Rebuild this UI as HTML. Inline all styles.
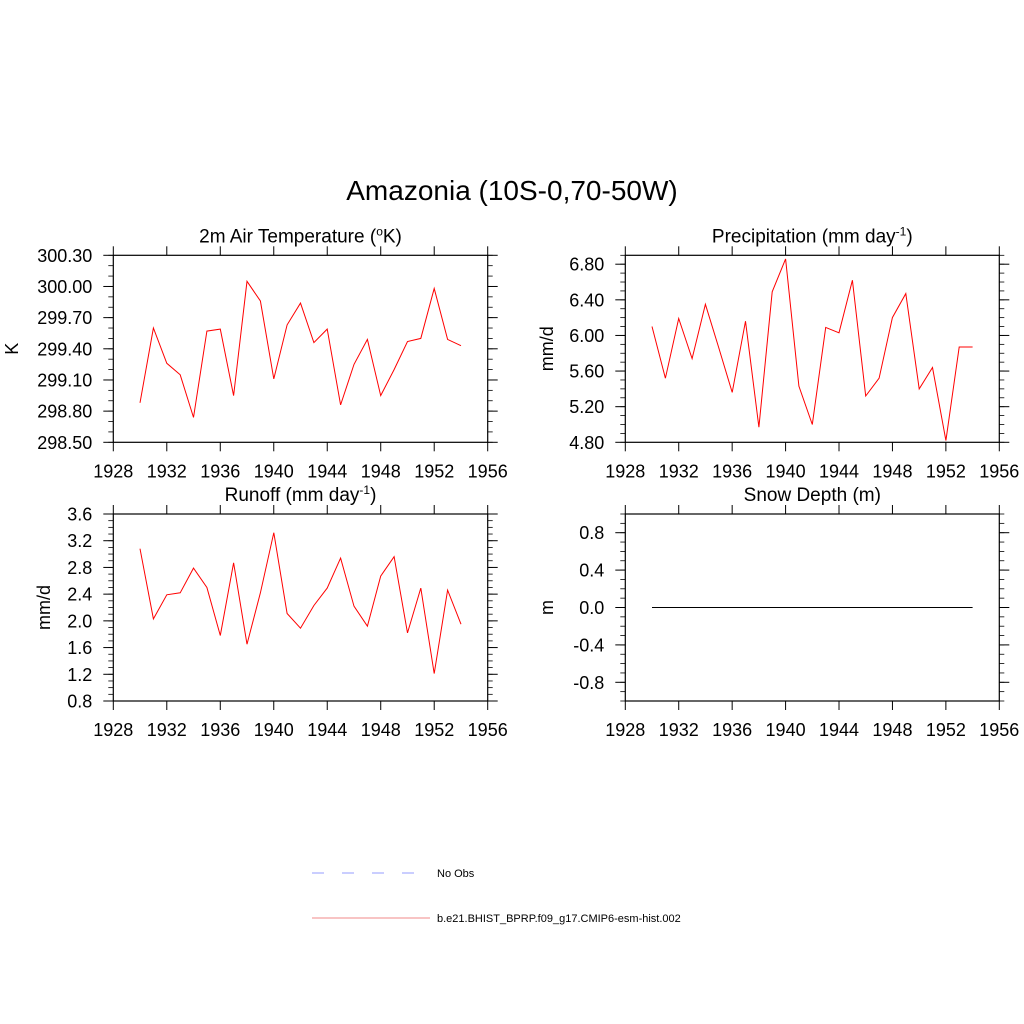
<!DOCTYPE html>
<html><head><meta charset="utf-8"><style>
html,body{margin:0;padding:0;background:#fff;}
svg{display:block;font-family:"Liberation Sans",sans-serif;}
</style></head><body>
<svg id="c" width="1024" height="1024" viewBox="0 0 1024 1024">
<text x="512" y="200" text-anchor="middle" font-size="28">Amazonia (10S-0,70-50W)</text>
<g>
<line x1="312" y1="873" x2="418" y2="873" stroke="#aab0ff" stroke-width="1.2" stroke-dasharray="12,18"/>
<text x="437" y="877" font-size="11">No Obs</text>
<line x1="312" y1="918" x2="430" y2="918" stroke="#f4a0a0" stroke-width="1.2"/>
<text x="437" y="922" font-size="11">b.e21.BHIST_BPRP.f09_g17.CMIP6-esm-hist.002</text>
</g>
</svg>
<script>
const years = [1930,1931,1932,1933,1934,1935,1936,1937,1938,1939,1940,1941,1942,1943,1944,1945,1946,1947,1948,1949,1950,1951,1952,1953,1954];
const tempVals = [298.88,299.60,299.26,299.15,298.74,299.57,299.59,298.95,300.05,299.86,299.11,299.63,299.84,299.46,299.59,298.86,299.25,299.49,298.95,299.20,299.47,299.50,299.98,299.49,299.43];
const precVals = [6.10,5.52,6.19,5.74,6.35,5.86,5.36,6.16,4.97,6.49,6.86,5.43,5.00,6.09,6.03,6.62,5.32,5.52,6.20,6.47,5.40,5.64,4.82,5.87,5.87];
const runoffVals = [3.08,2.03,2.39,2.42,2.79,2.50,1.78,2.87,1.65,2.42,3.32,2.11,1.89,2.23,2.49,2.94,2.22,1.92,2.67,2.96,1.82,2.49,1.21,2.46,1.95];
const snowVals = [0,0,0,0,0,0,0,0,0,0,0,0,0,0,0,0,0,0,0,0,0,0,0,0,0];
const xTicks = [1928,1932,1936,1940,1944,1948,1952,1956];
const tempTicks = ["298.50","298.80","299.10","299.40","299.70","300.00","300.30"];
const precTicks = ["4.80","5.20","5.60","6.00","6.40","6.80"];
const runoffTicks = ["0.8","1.2","1.6","2.0","2.4","2.8","3.2","3.6"];
const snowTicks = ["-0.8","-0.4","0.0","0.4","0.8"];

const NS="http://www.w3.org/2000/svg";
const svg=document.getElementById('c');
function mk(tag,attrs,parent){const e=document.createElementNS(NS,tag);for(const k in attrs)e.setAttribute(k,attrs[k]);(parent||svg).appendChild(e);return e;}

function panel(o){
  const g=mk('g',{});
  
  
  const L=o.x0,R=o.x1,T=o.y0,B=o.y1;
  const sx=v=>L+(v-1928)/(1956-1928)*(R-L);
  const sy=v=>B-(v-o.ymin)/(o.ymax-o.ymin)*(B-T);
  const box=mk('rect',{x:L,y:T,width:R-L,height:B-T,fill:'none',stroke:'#000','stroke-width':1.2},g);
  
  
  xTicks.forEach(t=>{
    const x=sx(t);
    mk('line',{x1:x,y1:B,x2:x,y2:B+9,stroke:'#000','stroke-width':1},g);
    mk('line',{x1:x,y1:T,x2:x,y2:T-9,stroke:'#000','stroke-width':1},g);
    const tx=mk('text',{x:x,y:B+35,'text-anchor':'middle','font-size':18},g);
    tx.textContent=t;
    
    
  });
  for(let v=o.ymin;v<=o.ymax+1e-6;v+=o.minor){
    const y=sy(v);
    mk('line',{x1:L,y1:y,x2:L-5,y2:y,stroke:'#000','stroke-width':0.8},g);
    mk('line',{x1:R,y1:y,x2:R+5,y2:y,stroke:'#000','stroke-width':0.8},g);
  }
  o.ticks.forEach(s=>{
    const y=sy(parseFloat(s));
    mk('line',{x1:L,y1:y,x2:L-10,y2:y,stroke:'#000','stroke-width':1},g);
    mk('line',{x1:R,y1:y,x2:R+10,y2:y,stroke:'#000','stroke-width':1},g);
    const tx=mk('text',{x:L-21,y:y+6.5,'text-anchor':'end','font-size':18},g);
    tx.textContent=s;
    
    
  });
  const ttl=mk('text',{x:(L+R)/2,y:T-13,'text-anchor':'middle','font-size':19},g);
  ttl.innerHTML=o.title;
  
  
  const yl=mk('text',{x:0,y:0,'text-anchor':'middle','font-size':18,transform:`translate(${o.ylx},${(T+B)/2}) rotate(-90)`},g);
  yl.textContent=o.ylabel;
  
  
  const pts=years.map((yr,i)=>sx(yr).toFixed(1)+','+sy(o.vals[i]).toFixed(1)).join(' ');
  const ln=mk('polyline',{points:pts,fill:'none',stroke:o.color,'stroke-width':1},g);
  
  
}
const sup=s=>`<tspan font-size="12" dy="-7">${s}</tspan><tspan dy="7">`;
panel({name:'temperature',x0:113.3,x1:487.7,y0:255.3,y1:442.3,ymin:298.5,ymax:300.3,minor:0.1,ticks:tempTicks,vals:tempVals,color:'#ff0000',ylabel:'K',ylx:18,title:'2m Air Temperature ('+sup('o')+'K)</tspan>'});
panel({name:'precipitation',x0:625.3,x1:999.3,y0:255.3,y1:442.3,ymin:4.8,ymax:6.9,minor:0.1,ticks:precTicks,vals:precVals,color:'#ff0000',ylabel:'mm/d',ylx:553,title:'Precipitation (mm day'+sup('-1')+')</tspan>'});
panel({name:'runoff',x0:113.3,x1:487.7,y0:514,y1:701,ymin:0.8,ymax:3.6,minor:0.1,ticks:runoffTicks,vals:runoffVals,color:'#ff0000',ylabel:'mm/d',ylx:50,title:'Runoff (mm day'+sup('-1')+')</tspan>'});
panel({name:'snow-depth',x0:625.3,x1:999.3,y0:514,y1:701,ymin:-1,ymax:1,minor:0.1,ticks:snowTicks,vals:snowVals,color:'#000000',ylabel:'m',ylx:553,title:'Snow Depth (m)'});
</script>
</body></html>
